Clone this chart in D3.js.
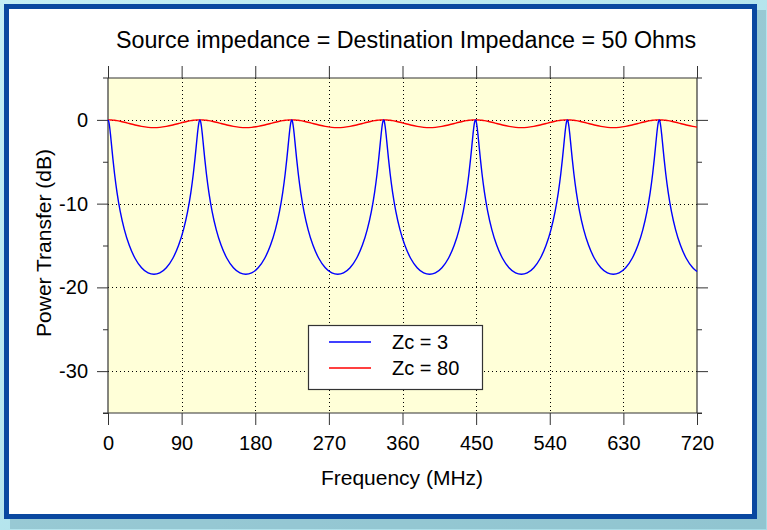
<!DOCTYPE html>
<html><head><meta charset="utf-8">
<script src="https://cdn.jsdelivr.net/npm/d3@7"></script>
<style>html,body{margin:0;padding:0;background:#ffffff;}svg{display:block;font-family:"Liberation Sans",Arial,Helvetica,sans-serif;}</style>
</head><body>
<svg id="c" width="767" height="530"></svg>
<script>
const title = "Source impedance = Destination Impedance = 50 Ohms";
const xLabel = "Frequency (MHz)";
const yLabel = "Power Transfer (dB)";
const xTicks = [0, 90, 180, 270, 360, 450, 540, 630, 720];
const yTicks = [0, -10, -20, -30];
const seriesNames = ["Zc = 3", "Zc = 80"];
const seriesColors = ["#0000ff", "#ff0000"];

const freq = [
  0,1,2,3,4,6,8,11,15,20,26,33,41,49,56.2,
  63.3,71.3,79.3,86.3,92.3,97.3,101.3,104.3,106.3,108.3,109.3,110.3,111.3,112.3,113.3,114.3,115.3,116.3,118.3,120.3,123.3,127.3,132.3,138.3,145.3,153.3,161.3,168.4,
  175.6,183.6,191.6,198.6,204.6,209.6,213.6,216.6,218.6,220.6,221.6,222.6,223.6,224.6,225.6,226.6,227.6,228.6,230.6,232.6,235.6,239.6,244.6,250.6,257.6,265.6,273.6,280.8,
  287.9,295.9,303.9,310.9,316.9,321.9,325.9,328.9,330.9,332.9,333.9,334.9,335.9,336.9,337.9,338.9,339.9,340.9,342.9,344.9,347.9,351.9,356.9,362.9,369.9,377.9,385.9,393.1,
  400.2,408.2,416.2,423.2,429.2,434.2,438.2,441.2,443.2,445.2,446.2,447.2,448.2,449.2,450.2,451.2,452.2,453.2,455.2,457.2,460.2,464.2,469.2,475.2,482.2,490.2,498.2,505.4,
  512.5,520.5,528.5,535.5,541.5,546.5,550.5,553.5,555.5,557.5,558.5,559.5,560.5,561.5,562.5,563.5,564.5,565.5,567.5,569.5,572.5,576.5,581.5,587.5,594.5,602.5,610.5,617.7,
  624.8,632.8,640.8,647.8,653.8,658.8,662.8,665.8,667.8,669.8,670.8,671.8,672.8,673.8,674.8,675.8,676.8,677.8,679.8,681.8,684.8,688.8,693.8,699.8,706.8,714.8,720
];

const zc3 = [
  0,-0.23,-0.85,-1.71,-2.69,-4.66,-6.43,-8.65,-10.95,-13.10,-14.98,-16.52,-17.65,-18.27,-18.44,
  -18.27,-17.65,-16.52,-14.98,-13.10,-10.95,-8.65,-6.43,-4.66,-2.69,-1.71,-0.85,-0.23,0,-0.23,-0.85,-1.71,-2.69,-4.66,-6.43,-8.65,-10.95,-13.10,-14.98,-16.52,-17.65,-18.27,-18.44,
  -18.27,-17.65,-16.52,-14.98,-13.10,-10.95,-8.65,-6.43,-4.66,-2.69,-1.71,-0.85,-0.23,0,-0.23,-0.85,-1.71,-2.69,-4.66,-6.43,-8.65,-10.95,-13.10,-14.98,-16.52,-17.65,-18.27,-18.44,
  -18.27,-17.65,-16.52,-14.98,-13.10,-10.95,-8.65,-6.43,-4.66,-2.69,-1.71,-0.85,-0.23,0,-0.23,-0.85,-1.71,-2.69,-4.66,-6.43,-8.65,-10.95,-13.10,-14.98,-16.52,-17.65,-18.27,-18.44,
  -18.27,-17.65,-16.52,-14.98,-13.10,-10.95,-8.65,-6.43,-4.66,-2.69,-1.71,-0.85,-0.23,0,-0.23,-0.85,-1.71,-2.69,-4.66,-6.43,-8.65,-10.95,-13.10,-14.98,-16.52,-17.65,-18.27,-18.44,
  -18.27,-17.65,-16.52,-14.98,-13.10,-10.95,-8.65,-6.43,-4.66,-2.69,-1.71,-0.85,-0.23,0,-0.23,-0.85,-1.71,-2.69,-4.66,-6.43,-8.65,-10.95,-13.10,-14.98,-16.52,-17.65,-18.27,-18.44,
  -18.27,-17.65,-16.52,-14.98,-13.10,-10.95,-8.65,-6.43,-4.66,-2.69,-1.71,-0.85,-0.23,0,-0.23,-0.85,-1.71,-2.69,-4.66,-6.43,-8.65,-10.95,-13.10,-14.98,-16.52,-17.65,-18.11
];

const zc80 = [
  0,-0.001,-0.003,-0.007,-0.013,-0.029,-0.051,-0.093,-0.168,-0.282,-0.434,-0.612,-0.783,-0.893,-0.926,
  -0.893,-0.783,-0.612,-0.434,-0.282,-0.168,-0.093,-0.051,-0.029,-0.013,-0.007,-0.003,-0.001,0,-0.001,-0.003,-0.007,-0.013,-0.029,-0.051,-0.093,-0.168,-0.282,-0.434,-0.612,-0.783,-0.893,-0.926,
  -0.893,-0.783,-0.612,-0.434,-0.282,-0.168,-0.093,-0.051,-0.029,-0.013,-0.007,-0.003,-0.001,0,-0.001,-0.003,-0.007,-0.013,-0.029,-0.051,-0.093,-0.168,-0.282,-0.434,-0.612,-0.783,-0.893,-0.926,
  -0.893,-0.783,-0.612,-0.434,-0.282,-0.168,-0.093,-0.051,-0.029,-0.013,-0.007,-0.003,-0.001,0,-0.001,-0.003,-0.007,-0.013,-0.029,-0.051,-0.093,-0.168,-0.282,-0.434,-0.612,-0.783,-0.893,-0.926,
  -0.893,-0.783,-0.612,-0.434,-0.282,-0.168,-0.093,-0.051,-0.029,-0.013,-0.007,-0.003,-0.001,0,-0.001,-0.003,-0.007,-0.013,-0.029,-0.051,-0.093,-0.168,-0.282,-0.434,-0.612,-0.783,-0.893,-0.926,
  -0.893,-0.783,-0.612,-0.434,-0.282,-0.168,-0.093,-0.051,-0.029,-0.013,-0.007,-0.003,-0.001,0,-0.001,-0.003,-0.007,-0.013,-0.029,-0.051,-0.093,-0.168,-0.282,-0.434,-0.612,-0.783,-0.893,-0.926,
  -0.893,-0.783,-0.612,-0.434,-0.282,-0.168,-0.093,-0.051,-0.029,-0.013,-0.007,-0.003,-0.001,0,-0.001,-0.003,-0.007,-0.013,-0.029,-0.051,-0.093,-0.168,-0.282,-0.434,-0.612,-0.783,-0.863
];

const svg = d3.select("#c");
const W = 767, H = 530;
const FONT = "Liberation Sans, Arial, sans-serif";

// background and frame
const defs = svg.append("defs");
const bg = defs.append("linearGradient").attr("id","bgGrad").attr("x1","0").attr("y1","0").attr("x2","1").attr("y2","1");
bg.append("stop").attr("offset","0").attr("stop-color","#c4eef5");
bg.append("stop").attr("offset","1").attr("stop-color","#a6dbe5");
svg.append("rect").attr("x",0).attr("y",0).attr("width",W).attr("height",H).attr("fill","url(#bgGrad)");
svg.append("rect").attr("x",10).attr("y",10).attr("width",756).attr("height",519).attr("fill","#7fb3bf").attr("opacity",0.55);
svg.append("rect").attr("x",6.5).attr("y",6.5).attr("width",748).attr("height",510).attr("fill","#ffffff").attr("stroke","#0a48a0").attr("stroke-width",5);

const m = {l:108, r:697, t:78, b:413};
const x = d3.scaleLinear().domain([0,720]).range([m.l, m.r]);
const y = d3.scaleLinear().domain([5,-35]).range([m.t, m.b]);

// plot background
svg.append("rect").attr("x",m.l).attr("y",m.t).attr("width",m.r-m.l).attr("height",m.b-m.t).attr("fill","#ffffd8");

// grid
const grid = svg.append("g").attr("stroke","#000").attr("stroke-width",1).attr("stroke-dasharray","1,3");
grid.selectAll("line.vx").data(xTicks.slice(1,-1)).join("line")
  .attr("x1",d=>Math.round(x(d))+0.5).attr("x2",d=>Math.round(x(d))+0.5).attr("y1",m.t).attr("y2",m.b);
grid.selectAll("line.hy").data(yTicks).join("line")
  .attr("y1",d=>Math.round(y(d))+0.5).attr("y2",d=>Math.round(y(d))+0.5).attr("x1",m.l).attr("x2",m.r);

// axes
const axStyle = g => { g.select(".domain").remove(); g.selectAll(".tick line").attr("stroke","#333"); g.selectAll("text").attr("fill","#000").attr("font-size","20px").attr("font-family",FONT); };
const fmt = d => String(d);
svg.append("g").attr("transform",`translate(0,${m.b})`)
  .call(d3.axisBottom(x).tickValues(xTicks).tickFormat(fmt).tickSize(12).tickPadding(11)).call(axStyle);
svg.append("g").attr("transform",`translate(0,${m.t})`)
  .call(d3.axisTop(x).tickValues(xTicks).tickFormat("").tickSize(12)).call(axStyle);
svg.append("g").attr("transform",`translate(${m.l},0)`)
  .call(d3.axisLeft(y).tickValues(yTicks).tickFormat(fmt).tickSize(11).tickPadding(9)).call(axStyle);
svg.append("g").attr("transform",`translate(${m.l},0)`)
  .call(d3.axisLeft(y).tickValues(yTicks.map(v=>v-5)).tickFormat("").tickSize(5)).call(axStyle);
svg.append("g").attr("transform",`translate(${m.r},0)`)
  .call(d3.axisRight(y).tickValues(yTicks).tickFormat("").tickSize(11)).call(axStyle);
svg.append("g").attr("transform",`translate(${m.r},0)`)
  .call(d3.axisRight(y).tickValues(yTicks.map(v=>v-5)).tickFormat("").tickSize(5)).call(axStyle);

// frame of plot
const fr = svg.append("g").attr("stroke","#333").attr("stroke-width",1.2);
fr.append("line").attr("x1",m.l-5).attr("x2",m.r+5).attr("y1",m.t).attr("y2",m.t);
fr.append("line").attr("x1",m.l-5).attr("x2",m.r+5).attr("y1",m.b).attr("y2",m.b);
fr.append("line").attr("x1",m.l).attr("x2",m.l).attr("y1",m.t).attr("y2",m.b);
fr.append("line").attr("x1",m.r).attr("x2",m.r).attr("y1",m.t).attr("y2",m.b);

// series
const series = [zc3, zc80];
const line = d3.line().x((d,i)=>x(freq[i])).y(d=>y(d)).curve(d3.curveMonotoneX);
svg.append("g").selectAll("path").data([series[1], series[0]]).join("path")
  .attr("d", d=>line(d)).attr("fill","none")
  .attr("stroke",(d,i)=>i===0?seriesColors[1]:seriesColors[0]).attr("stroke-width",1.4);

// title and labels
svg.append("text").attr("x",406).attr("y",48).attr("text-anchor","middle").attr("font-size","23.3px").text(title);
svg.append("text").attr("x",402).attr("y",485).attr("text-anchor","middle").attr("font-size","21px").text(xLabel);
svg.append("text").attr("transform","translate(51,243) rotate(-90)").attr("text-anchor","middle").attr("font-size","21px").text(yLabel);

// legend
const lg = svg.append("g");
lg.append("rect").attr("x",308.5).attr("y",325.5).attr("width",174).attr("height",64).attr("fill","#fff").attr("stroke","#333").attr("stroke-width",1.2);
seriesNames.forEach((n,i)=>{
  const yy = 342 + i*26;
  lg.append("line").attr("x1",329).attr("x2",371).attr("y1",yy).attr("y2",yy).attr("stroke",seriesColors[i]).attr("stroke-width",1.4);
  lg.append("text").attr("x",392).attr("y",yy+7).attr("font-size","20px").text(n);
});
</script>
</body></html>
